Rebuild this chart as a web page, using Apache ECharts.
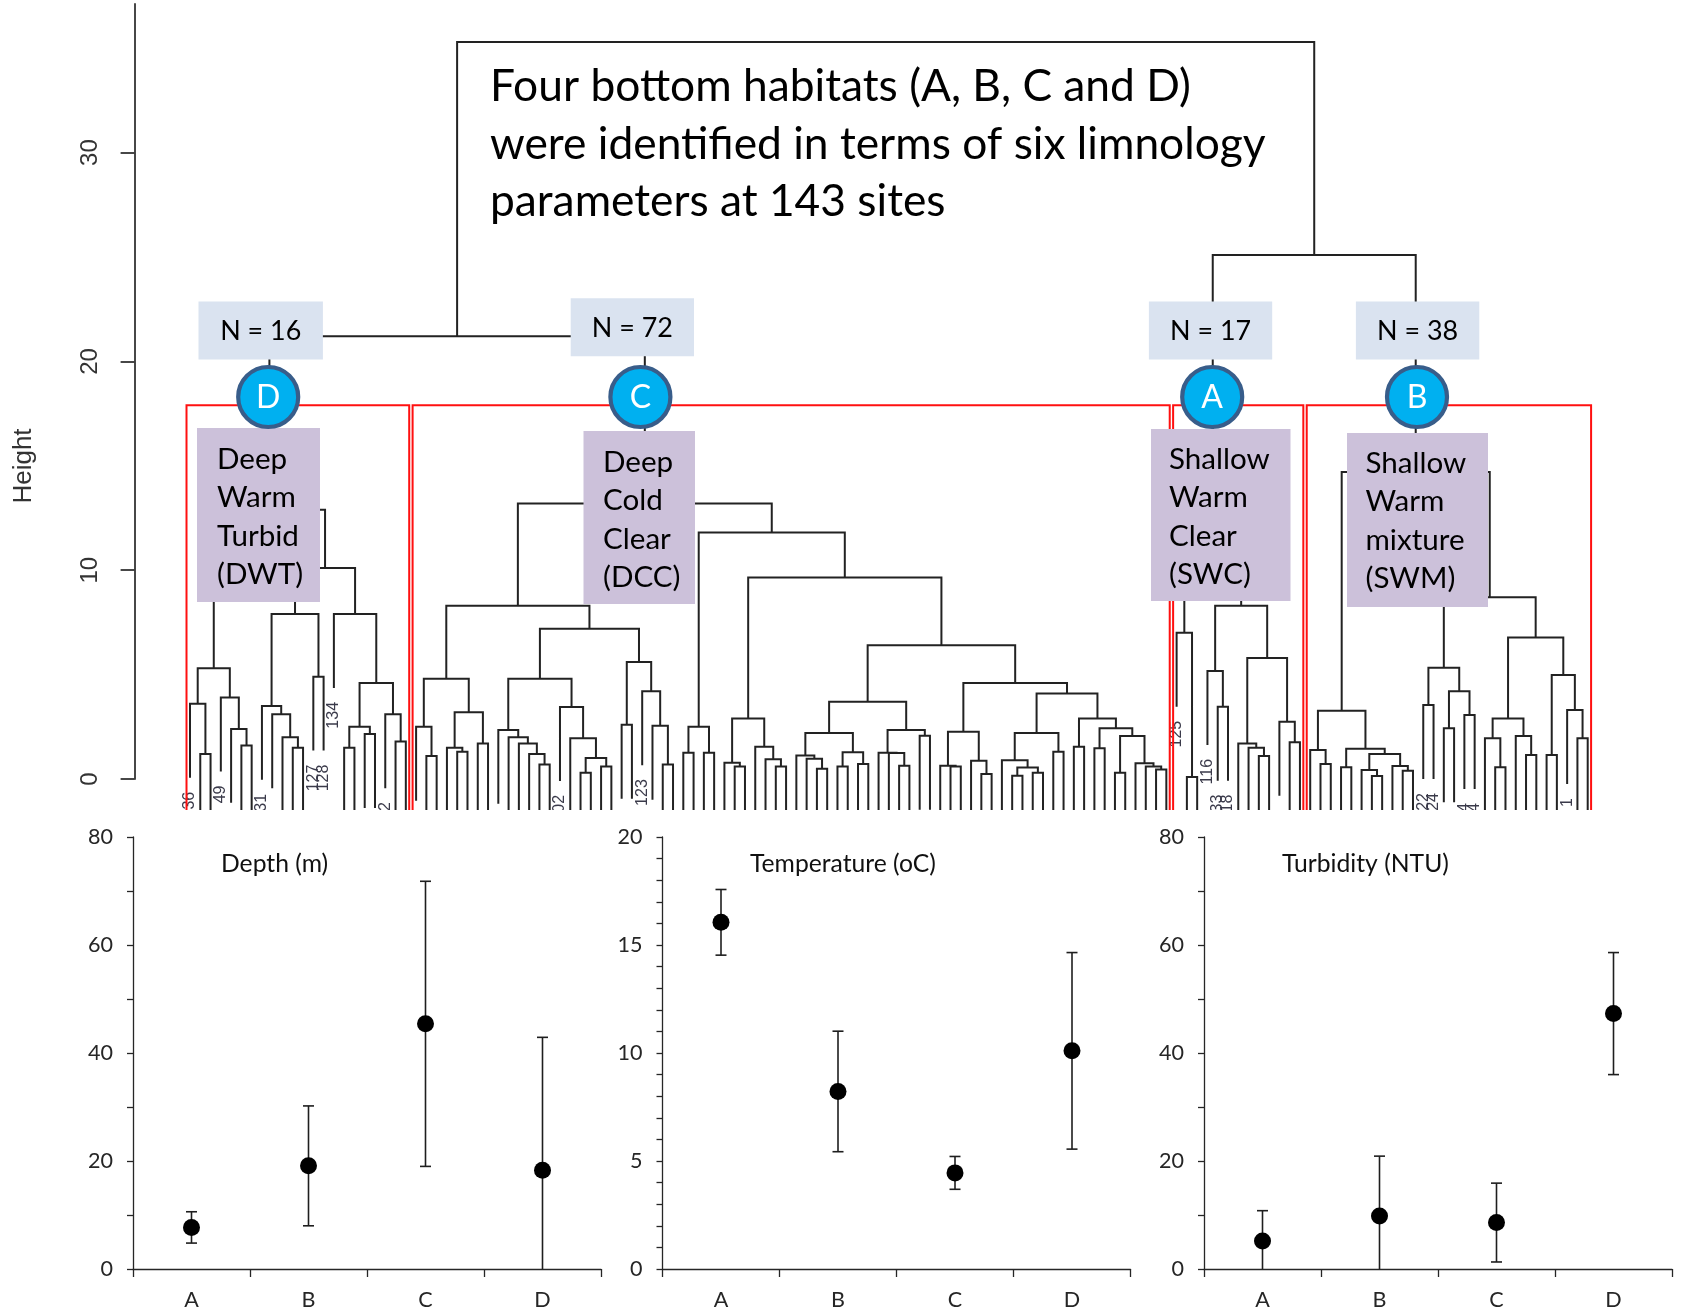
<!DOCTYPE html>
<html><head><meta charset="utf-8">
<script src="https://cdn.jsdelivr.net/npm/echarts@6/dist/echarts.min.js"></script>
<style>html,body{margin:0;padding:0;background:#fff}#c{width:1682px;height:1313px}</style>
</head><body><div id="c"></div>
<script>
// ================= DATA =================
// Dendrogram clusters: internal node = [height, left, right]; leaf = label string ('' = label not visible)
const clusterD = [12.9,
  [5.3, [3.6, "36", [1.2, "", ""]], [3.9, "49", [2.4, "", [1.6, "", ""]]]],
  [10.1,
    [7.9, [3.5, "31", [3.1, "", [2.0, "", [1.5, "", ""]]]], [4.9, "127", "128"]],
    [7.9, "134", [4.6, [2.5, [1.5, "", ""], [2.15, "", ""]], [3.1, "2", [1.8, "", ""]]]]
  ]
];
const clusterC = [13.2,
  [8.3,
    [4.8, [2.5, "", [1.1, "", ""]], [3.2, [1.5, "", [1.3, "", ""]], [1.7, "", ""]]],
    [7.2,
      [4.8,
        [2.35, "", [2.0, "", [1.7, "", [1.2, "", [0.7, "", ""]]]]],
        [3.45, "102", [1.95, "", [1.0, [0.3, "", ""], [0.6, "", ""]]]]
      ],
      [5.6, [2.6, "", ""], [4.2, "123", [2.55, "", [0.7, "", ""]]]]
    ]
  ],
  [11.8,
    [2.5, [1.26, "", ""], [1.26, "", ""]],
    [9.65,
      [2.9, [0.78, "", [0.6, "", ""]], [1.55, "", [0.94, "", [0.6, "", ""]]]],
      [6.4,
        [3.7,
          [2.2, [1.13, "", [0.97, "", [0.49, "", ""]]], [1.28, [0.6, "", ""], [0.72, "", ""]]],
          [2.35, [1.26, "", [1.25, "", [0.64, "", ""]]], [2.07, "", ""]]
        ],
        [4.6,
          [2.26, [0.64, "", [0.6, "", ""]], [0.88, "", [0.24, "", ""]]],
          [4.1,
            [2.2, [0.9, "", [0.55, [0.16, "", ""], [0.3, "", ""]]], [1.3, "", ""]],
            [2.9, [1.55, "", ""], [2.43, [1.47, "", ""], [2.06, [0.3, "", ""], [0.75, "", [0.6, "", [0.45, "", ""]]]]]]
          ]
        ]
      ]
    ]
  ]
];
const clusterA = [12.5,
  [7.0, "125", [0.1, "", ""]],
  [8.3,
    [5.17, "116", [3.46, "33", "18"]],
    [5.8, [1.7, "", [1.5, "", [1.1, "", ""]]], [2.74, "", [1.76, "", ""]]]
  ]
];
const clusterB = [14.7,
  [3.27,
    [1.39, "", [0.72, "", ""]],
    [1.45, [0.56, "", ""], [1.2, [0.43, "", [0.14, "", ""]], [0.62, "", [0.4, "", ""]]]]
  ],
  [8.7,
    [5.33, [3.54, "22", "24"], [4.2, [2.43, "", ""], [3.06, "14", "4"]]],
    [6.78,
      [2.9, [1.95, "", [0.56, "", ""]], [2.06, "", [1.15, "", ""]]],
      [4.98, [1.15, "", ""], [3.3, "1", [1.95, "", ""]]]
    ]
  ]
];
const mergeDC = 21.2;
const mergeAB = 25.1;
const rootHeight = 35.3;
const hangHeight = 3.54;
const cutHeight = 17.9;
const heightTicks = [0, 10, 20, 30];

const clusterN = ['N = 16', 'N = 72', 'N = 17', 'N = 38'];
const clusterLetters = ['D', 'C', 'A', 'B'];
const clusterNames = [
  ['Deep', 'Warm', 'Turbid', '(DWT)'],
  ['Deep', 'Cold', 'Clear', '(DCC)'],
  ['Shallow', 'Warm', 'Clear', '(SWC)'],
  ['Shallow', 'Warm', 'mixture', '(SWM)']
];
const headline = ['Four bottom habitats (A, B, C and D)', 'were identified in terms of six limnology', 'parameters at 143 sites'];

const categories = ['A', 'B', 'C', 'D'];
const depthMean = [7.7, 19.1, 45.4, 18.3];
const depthSD = [2.9, 11.1, 26.4, 24.6];
const tempMean = [16.05, 8.22, 4.45, 10.1];
const tempSD = [1.52, 2.79, 0.76, 4.55];
const turbMean = [5.2, 9.8, 8.6, 47.3];
const turbSD = [5.6, 11.1, 7.3, 11.3];
const panelTitles = ['Depth (m)', 'Temperature (oC)', 'Turbidity (NTU)'];
const panelMax = [80, 20, 80];
const panelTickStep = [10, 1, 10];
const panelLabelStep = [20, 5, 20];

// ================= LAYOUT (pixels) =================
const LAY = {
  firstLeafPx: 190, lastLeafPx: 1587.7, axisX: 134.6, top: 4, zeroY: 779, clipY: 810, pxPerUnit: 20.88, gridW: 1545,
  panelLeft: [133, 662.5, 1204], panelW: 468, panelTop: 837, panelH: 432,
  nBoxes: [[198.5, 301.4, 124.4, 58], [570.7, 298.2, 123.3, 58], [1148.9, 301.4, 123.3, 58], [1355.9, 301.4, 123.4, 58]],
  circles: [[268.2, 397], [640.4, 397], [1212.2, 397], [1417, 397]],
  nameBoxes: [[197, 428, 123, 174, 217, 459], [583.5, 431, 111.5, 173, 603, 462], [1151, 429, 139.5, 172, 1169, 459], [1347, 433, 141, 174, 1365.5, 463]],
  nameLineH: 38.6,
  headX: 490, headY: [87, 145, 202],
  titleX: [221, 750, 1282], titleY: 864
};

// ================= BUILD TREE =================
const tree = [rootHeight, [mergeDC, clusterD, clusterC], [mergeAB, clusterA, clusterB]];
let leafCount = 0;
const segments = [];
const leafLabels = [];
function walk(node) {
  if (typeof node === 'string') return { x: leafCount++, leaf: true, label: node };
  const h = node[0];
  const a = walk(node[1]), b = walk(node[2]);
  const ya = a.leaf ? h - hangHeight : a.h;
  const yb = b.leaf ? h - hangHeight : b.h;
  segments.push([a.x, ya, a.x, h, b.x, h, b.x, yb]);
  if (a.leaf && a.label) leafLabels.push([a.x, ya, a.label]);
  if (b.leaf && b.label) leafLabels.push([b.x, yb, b.label]);
  return { x: (a.x + b.x) / 2, h: h, leaf: false };
}
walk(tree);
function countLeaves(n) { return typeof n === 'string' ? 1 : countLeaves(n[1]) + countLeaves(n[2]); }
const redBoxes = [];
let start = 0;
[clusterD, clusterC, clusterA, clusterB].forEach(c => {
  const n = countLeaves(c);
  redBoxes.push([start - 0.34, start + n - 1 + 0.33]);
  start += n;
});

const spacing = (LAY.lastLeafPx - LAY.firstLeafPx) / (leafCount - 1);
const xMin = (LAY.axisX - LAY.firstLeafPx) / spacing;
const xMax = xMin + LAY.gridW / spacing;
const yMaxD = (LAY.zeroY - LAY.top) / LAY.pxPerUnit;
const yMinClip = -(LAY.clipY - LAY.zeroY) / LAY.pxPerUnit;

// ================= FONT FIT =================
const mctx = document.createElement('canvas').getContext('2d');
function fit(text, family, target) { mctx.font = '100px ' + family; return 100 * target / mctx.measureText(text).width; }
const headFont = fit(headline[0], 'Lato', 701);
const nFont = fit('N = 16', 'Lato', 81);
const nameFont = (fit('Turbid', 'Lato', 80.7) + fit('Shallow', 'Lato', 102)) / 2;
const titleFont = (fit(panelTitles[0], 'Lato', 107) + fit(panelTitles[1], 'Lato', 189) + fit(panelTitles[2], 'Lato', 164)) / 3;
const tickFont = fit('80', 'Lato', 25);

// ================= OPTION =================
const axisColor = '#262626';
const grids = [
  { left: LAY.axisX, top: LAY.top, width: LAY.gridW, height: LAY.zeroY - LAY.top },
  { left: LAY.axisX, top: LAY.top, width: LAY.gridW, height: LAY.clipY - LAY.top }
];
LAY.panelLeft.forEach(l => grids.push({ left: l, top: LAY.panelTop, width: LAY.panelW, height: LAY.panelH }));
grids.forEach(g => { g.containLabel = false; g.outerBoundsMode = 'none'; g.show = false; });

const xAxes = [
  { type: 'value', gridIndex: 0, min: xMin, max: xMax, show: false },
  { type: 'value', gridIndex: 1, min: xMin, max: xMax, show: false }
];
const yAxes = [
  { type: 'value', gridIndex: 0, min: 0, max: yMaxD, interval: 10, position: 'left',
    axisLine: { show: true, onZero: false, lineStyle: { color: '#333', width: 1.8 } },
    axisTick: { show: true, length: 14, customValues: heightTicks, lineStyle: { color: '#333', width: 1.8 } },
    axisLabel: { show: true, rotate: 90, margin: 32, customValues: heightTicks, formatter: v => (v % 10 === 0 ? String(v) : ''),
      fontFamily: '"Liberation Sans", Arial', fontSize: 24, color: '#333' },
    splitLine: { show: false } },
  { type: 'value', gridIndex: 1, min: yMinClip, max: yMaxD, show: false }
];

const series = [
  { type: 'custom', xAxisIndex: 1, yAxisIndex: 1, clip: true, silent: true, z: 3,
    data: segments,
    renderItem: (params, api) => {
      const s = segments[params.dataIndex];
      const pts = [];
      for (let k = 0; k < 8; k += 2) pts.push(api.coord([s[k], s[k + 1]]));
      return { type: 'polyline', shape: { points: pts }, style: { stroke: '#222', lineWidth: 2, fill: null } };
    } },
  { type: 'custom', xAxisIndex: 1, yAxisIndex: 1, clip: true, silent: true, z: 3,
    data: leafLabels.map(l => [l[0], l[1]]),
    renderItem: (params, api) => {
      const l = leafLabels[params.dataIndex];
      const p = api.coord([l[0], l[1]]);
      return { type: 'text', x: p[0], y: p[1] + 14, rotation: Math.PI / 2,
        style: { text: l[2], align: 'right', verticalAlign: 'middle', font: '16px "Liberation Sans", Arial', fill: '#3a3a4a' } };
    } },
  { type: 'custom', xAxisIndex: 1, yAxisIndex: 1, clip: true, silent: true, z: 4,
    data: redBoxes,
    renderItem: (params, api) => {
      const b = redBoxes[params.dataIndex];
      const pts = [api.coord([b[0], yMinClip - 2]), api.coord([b[0], cutHeight]), api.coord([b[1], cutHeight]), api.coord([b[1], yMinClip - 2])];
      return { type: 'polyline', shape: { points: pts }, style: { stroke: '#ff1010', lineWidth: 2, fill: null } };
    } }
];

const panelData = [[depthMean, depthSD], [tempMean, tempSD], [turbMean, turbSD]];
panelData.forEach((pd, i) => {
  const gi = i + 2;
  xAxes.push({ type: 'category', gridIndex: gi, data: categories, boundaryGap: true,
    axisLine: { show: true, onZero: false, lineStyle: { color: axisColor, width: 1.3 } },
    axisTick: { show: true, length: 8, lineStyle: { color: axisColor, width: 1.3 } },
    axisLabel: { fontFamily: 'Lato', fontSize: tickFont, color: axisColor, margin: 20 },
    splitLine: { show: false } });
  yAxes.push({ type: 'value', gridIndex: gi, min: 0, max: panelMax[i], interval: panelTickStep[i],
    axisLine: { show: true, onZero: false, lineStyle: { color: axisColor, width: 1.3 } },
    axisTick: { show: true, length: 6, lineStyle: { color: axisColor, width: 1.3 } },
    axisLabel: { fontFamily: 'Lato', fontSize: tickFont, color: axisColor, margin: 20,
      formatter: v => (Math.abs(v % panelLabelStep[i]) < 1e-9 ? String(v) : '') },
    splitLine: { show: false } });
  const mean = pd[0], sd = pd[1];
  series.push({ type: 'custom', xAxisIndex: gi, yAxisIndex: gi, clip: true, silent: true, z: 4,
    data: mean.map((m, k) => [k, m, sd[k]]),
    renderItem: (params, api) => {
      const x = api.value(0), m = api.value(1), e = api.value(2);
      const t = api.coord([x, m + e]), b = api.coord([x, m - e]);
      const cw = 5.5, st = { stroke: '#1e1e1e', lineWidth: 1.6 };
      return { type: 'group', children: [
        { type: 'line', shape: { x1: t[0], y1: t[1], x2: b[0], y2: b[1] }, style: st },
        { type: 'line', shape: { x1: t[0] - cw, y1: t[1], x2: t[0] + cw, y2: t[1] }, style: st },
        { type: 'line', shape: { x1: b[0] - cw, y1: b[1], x2: b[0] + cw, y2: b[1] }, style: st }
      ] };
    } });
  series.push({ type: 'scatter', xAxisIndex: gi, yAxisIndex: gi, silent: true, z: 6,
    data: mean.map((m, k) => [k, m]), symbol: 'circle', symbolSize: 17, itemStyle: { color: '#000', opacity: 1 } });
});

// ================= ANNOTATIONS =================
const graphics = [];
headline.forEach((t, i) => graphics.push({ type: 'text', z: 100, x: LAY.headX, y: LAY.headY[i],
  style: { text: t, font: headFont.toFixed(1) + 'px Lato', fill: '#000', align: 'left', verticalAlign: 'middle' } }));
clusterN.forEach((t, i) => {
  const b = LAY.nBoxes[i];
  graphics.push({ type: 'rect', z: 100, shape: { x: b[0], y: b[1], width: b[2], height: b[3] }, style: { fill: '#DAE3F0' } });
  graphics.push({ type: 'text', z: 101, x: b[0] + b[2] / 2, y: b[1] + b[3] / 2 + 1,
    style: { text: t, font: nFont.toFixed(1) + 'px Lato', fill: '#000', align: 'center', verticalAlign: 'middle' } });
});
clusterNames.forEach((lines, i) => {
  const b = LAY.nameBoxes[i];
  graphics.push({ type: 'rect', z: 100, shape: { x: b[0], y: b[1], width: b[2], height: b[3] }, style: { fill: '#CCC1DA' } });
  graphics.push({ type: 'text', z: 101, x: b[4], y: b[5] - LAY.nameLineH / 2,
    style: { text: lines.join('\n'), font: nameFont.toFixed(1) + 'px Lato', lineHeight: LAY.nameLineH, fill: '#000', align: 'left', verticalAlign: 'top' } });
});
clusterLetters.forEach((t, i) => {
  const c = LAY.circles[i];
  graphics.push({ type: 'circle', z: 102, shape: { cx: c[0], cy: c[1], r: 30 }, style: { fill: '#00B0F0', stroke: '#385D8A', lineWidth: 4.2 } });
  graphics.push({ type: 'text', z: 103, x: c[0], y: c[1] + 1,
    style: { text: t, font: '32px Lato', fill: '#fff', align: 'center', verticalAlign: 'middle' } });
});
panelTitles.forEach((t, i) => graphics.push({ type: 'text', z: 100, x: LAY.titleX[i], y: LAY.titleY,
  style: { text: t, font: titleFont.toFixed(1) + 'px Lato', fill: '#111', align: 'left', verticalAlign: 'middle' } }));
graphics.push({ type: 'text', z: 100, x: 23.5, y: 466, rotation: Math.PI / 2,
  style: { text: 'Height', font: '26px "Liberation Sans", Arial', fill: '#333', align: 'center', verticalAlign: 'middle' } });

const chart = echarts.init(document.getElementById('c'), null, { renderer: 'canvas', width: 1682, height: 1313 });
chart.setOption({
  animation: false,
  backgroundColor: '#fff',
  textStyle: { fontFamily: 'Lato' },
  grid: grids, xAxis: xAxes, yAxis: yAxes, series: series, graphic: graphics
});
</script></body></html>
